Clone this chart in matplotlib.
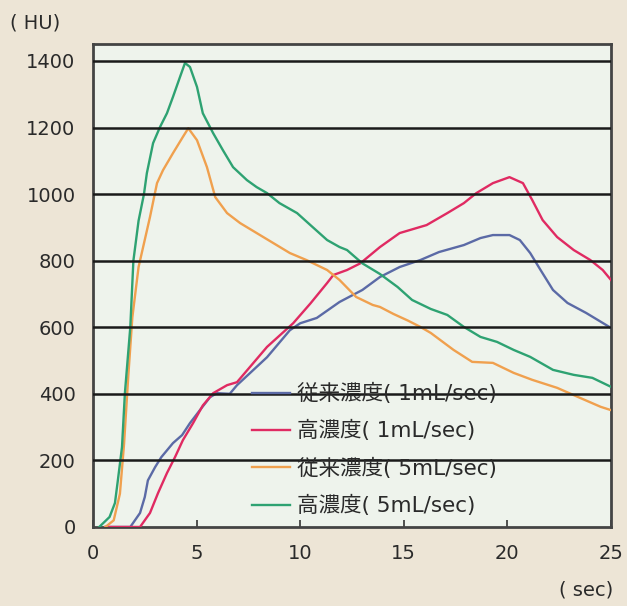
import matplotlib.pyplot as plt

plt.rcParams['font.family'] = ['DejaVu Sans', 'Noto Sans CJK JP']

# 従来濃度( 1mL/sec)
t_blue = [0.6, 1.8, 2.27, 2.5, 2.65, 3.0, 3.3, 3.86, 4.3, 4.68, 5.16, 5.65, 5.98, 6.6, 6.95,
          8.4, 9.5, 10.0, 10.8, 11.9, 13.0, 13.85, 14.8, 15.8, 16.7, 17.9, 18.7, 19.3, 20.1,
          20.6, 21.1, 21.6, 22.2, 22.9, 23.8, 24.6, 25.0]
v_blue = [0, 0, 42, 90, 140, 180, 210, 252, 276, 312, 351, 390, 402, 400, 426,
          510, 591, 612, 628, 676, 712, 751, 781, 802, 826, 847, 868, 877, 877,
          862, 823, 772, 712, 673, 643, 613, 598]

# 高濃度( 1mL/sec)
t_red = [0.6, 2.27, 2.75, 3.14, 3.57, 3.96, 4.34, 4.83, 5.3, 5.8, 6.47, 6.95, 8.4, 9.66,
         10.5, 11.3, 11.6, 12.26, 12.9, 13.85, 14.8, 16.1, 17.1, 17.9, 18.5, 19.3, 20.1,
         20.75, 21.2, 21.7, 22.4, 23.2, 24.0, 24.6, 25.0]
v_red = [0, 0, 42, 102, 162, 210, 261, 312, 365, 402, 426, 435, 541, 612,
         672, 733, 757, 772, 792, 841, 883, 907, 943, 973, 1003, 1033, 1051,
         1033, 982, 922, 871, 832, 802, 772, 742]

# 従来濃度( 5mL/sec)
t_orange = [0.6, 1.0, 1.3, 1.5, 1.7, 1.9, 2.2, 2.75, 3.09, 3.38, 3.86, 4.34, 4.6, 5.02, 5.5,
            5.9, 6.47, 7.1, 7.9, 8.7, 9.5, 10.3, 11.3, 11.9, 12.7, 13.5, 13.85, 14.5, 15.2,
            15.8, 16.3, 17.4, 18.3, 19.3, 20.3, 21.2, 22.4, 23.5, 24.5, 25.0]
v_orange = [0, 20, 100, 250, 450, 630, 781, 931, 1033, 1072, 1123, 1172, 1198, 1162, 1081,
            991, 943, 913, 883, 853, 823, 802, 772, 742, 691, 667, 661, 640, 620,
            601, 583, 532, 496, 493, 463, 442, 418, 388, 361, 351]

# 高濃度( 5mL/sec)
t_green = [0.3, 0.8, 1.06, 1.2, 1.4, 1.54, 1.8, 1.95, 2.2, 2.46, 2.6, 2.9, 3.23, 3.57, 3.86,
           4.2, 4.44, 4.68, 5.02, 5.3, 5.8, 6.27, 6.76, 7.43, 7.9, 8.4, 9.0, 9.85, 10.6,
           11.3, 11.9, 12.26, 13.0, 13.85, 14.7, 15.4, 16.3, 17.1, 17.9, 18.7, 19.5, 20.3,
           21.1, 22.2, 23.2, 24.1, 25.0]
v_green = [0, 30, 72, 140, 240, 402, 600, 800, 920, 1000, 1063, 1153, 1201, 1243, 1292,
           1352, 1394, 1382, 1322, 1243, 1183, 1132, 1081, 1042, 1021, 1003, 973, 943, 901,
           862, 841, 832, 792, 760, 721, 682, 655, 637, 601, 571, 556, 532,
           511, 472, 457, 448, 421]

labels = ['従来濃度( 1mL/sec)', '高濃度( 1mL/sec)', '従来濃度( 5mL/sec)', '高濃度( 5mL/sec)']
colors = ['#5b6aa6', '#e02a62', '#f0a04e', '#2ea272']

fig = plt.figure(figsize=(6.27, 6.06), dpi=100, facecolor='#ede5d6')
ax = fig.add_axes([0.1483, 0.1304, 0.8262, 0.797])
ax.set_facecolor('#eef3ec')

series = [(t_blue, v_blue), (t_red, v_red), (t_orange, v_orange), (t_green, v_green)]
for (t, v), lab, c in zip(series, labels, colors):
    ax.plot(t, v, color=c, lw=1.7, label=lab, zorder=3)

ax.set_xlim(0, 25)
ax.set_ylim(0, 1451)
ax.set_yticks(range(0, 1401, 200))
ax.set_xticks(range(0, 26, 5))
for y in range(200, 1401, 200):
    ax.axhline(y, color='#1a1a1a', lw=1.8, zorder=4)

for s in ax.spines.values():
    s.set_color('#444444')
    s.set_linewidth(2)

ax.tick_params(axis='y', length=0, pad=12.5, labelsize=14, labelcolor='#2a2a2a')
ax.tick_params(axis='x', direction='in', length=5, width=1.2, color='#333333',
               pad=12, labelsize=14, labelcolor='#2a2a2a')

leg = ax.legend(loc='upper left', bbox_to_anchor=(0.307, 0.298), frameon=False,
                fontsize=15.5, handlelength=1.77, handletextpad=0.33, labelspacing=0.75,
                borderpad=0, borderaxespad=0)
leg.set_zorder(5)
for txt in leg.get_texts():
    txt.set_color('#2a2a2a')

fig.text(0.016, 0.962, '( HU)', fontsize=14, color='#2a2a2a', va='center', ha='left')
fig.text(0.978, 0.026, '( sec)', fontsize=14, color='#2a2a2a', va='center', ha='right')

fig.savefig('out.png', dpi=100, facecolor=fig.get_facecolor())
